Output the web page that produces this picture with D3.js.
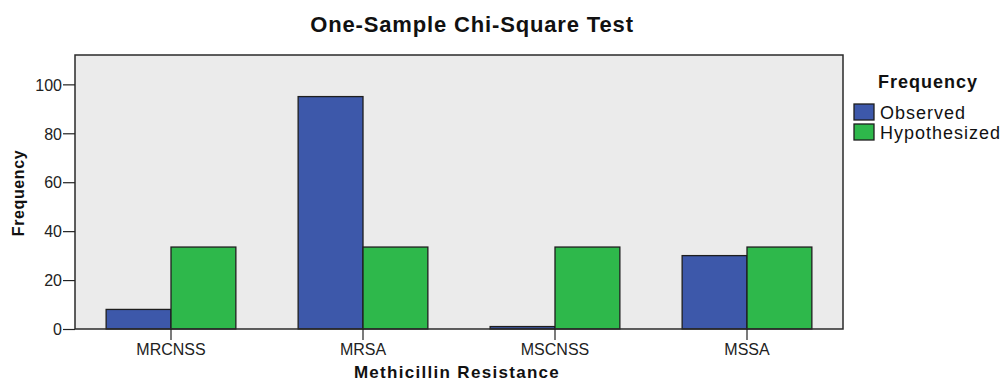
<!DOCTYPE html>
<html>
<head>
<meta charset="utf-8">
<script src="https://cdn.jsdelivr.net/npm/d3@7"></script>
<style>
  body { margin: 0; background: #fff; }
  svg text { font-family: "Liberation Sans", Arial, sans-serif; fill: #111; }
  .tick text { font-size: 16px; fill: #222; }
  .tick line { stroke: #222; stroke-width: 1.2; }
  .domain { display: none; }
</style>
</head>
<body>
<div id="chart"></div>
<script>
// data
var categories = ["MRCNSS", "MRSA", "MSCNSS", "MSSA"];
var seriesNames = ["Observed", "Hypothesized"];
var observed = [8, 95, 1, 30];
var hypothesized = [33.5, 33.5, 33.5, 33.5];
var yTicks = [0, 20, 40, 60, 80, 100];

var colors = { Observed: "#3d58aa", Hypothesized: "#2eb84b" };

var width = 1007, height = 381;
var plot = { left: 75, right: 843, top: 55, bottom: 329 };

var svg = d3.select("#chart").append("svg")
  .attr("width", width).attr("height", height);

// scales
var x = d3.scaleBand()
  .domain(categories)
  .range([plot.left, plot.right])
  .paddingInner(0).paddingOuter(0);

var xInner = d3.scaleBand()
  .domain(seriesNames)
  .range([0, x.bandwidth()])
  .paddingInner(0).paddingOuter(0.48);

var y = d3.scaleLinear()
  .domain([0, 112])
  .range([plot.bottom, plot.top]);

// plot background
svg.append("rect")
  .attr("x", plot.left).attr("y", plot.top)
  .attr("width", plot.right - plot.left)
  .attr("height", plot.bottom - plot.top)
  .attr("fill", "#ebebeb");

// bars
var rows = categories.map(function(c, i) {
  return { cat: c, values: [
    { key: "Observed", value: observed[i] },
    { key: "Hypothesized", value: hypothesized[i] }
  ]};
});

var groups = svg.append("g").attr("class", "bars")
  .selectAll("g")
  .data(rows)
  .enter()
  .append("g")
  .attr("transform", function(d) { return "translate(" + x(d.cat) + ",0)"; });

groups.selectAll("rect")
  .data(function(d) { return d.values; })
  .enter()
  .append("rect")
  .attr("x", function(d) { return xInner(d.key); })
  .attr("width", xInner.bandwidth())
  .attr("y", function(d) { return y(d.value); })
  .attr("height", function(d) { return y(0) - y(d.value); })
  .attr("fill", function(d) { return colors[d.key]; })
  .attr("stroke", "#1e1e1e")
  .attr("stroke-width", 1.3);

// plot border
svg.append("rect")
  .attr("x", plot.left).attr("y", plot.top)
  .attr("width", plot.right - plot.left)
  .attr("height", plot.bottom - plot.top)
  .attr("fill", "none")
  .attr("stroke", "#2a2a2a")
  .attr("stroke-width", 1.5);

// axes
svg.append("g")
  .attr("class", "y_axis")
  .attr("transform", "translate(" + plot.left + ",0)")
  .call(d3.axisLeft(y).tickValues(yTicks).tickSize(12).tickPadding(1));

svg.append("g")
  .attr("class", "x_axis")
  .attr("transform", "translate(0," + plot.bottom + ")")
  .call(d3.axisBottom(x).tickSize(11).tickPadding(4));

svg.selectAll(".y_axis .tick text").attr("dy", "0.36em");

// titles
svg.append("text")
  .attr("x", 472).attr("y", 32)
  .attr("text-anchor", "middle")
  .style("font-size", "22px").style("font-weight", "bold")
  .style("letter-spacing", "0.85px")
  .text("One-Sample Chi-Square Test");

svg.append("text")
  .attr("x", 457).attr("y", 378)
  .attr("text-anchor", "middle")
  .style("font-size", "17px").style("font-weight", "bold")
  .style("letter-spacing", "1.3px")
  .text("Methicillin Resistance");

svg.append("text")
  .attr("transform", "translate(24,193) rotate(-90)")
  .attr("text-anchor", "middle")
  .style("font-size", "16px").style("font-weight", "bold")
  .style("letter-spacing", "0.6px")
  .text("Frequency");

// legend
var legend = svg.append("g").attr("class", "legend");

legend.append("text")
  .attr("x", 928).attr("y", 88)
  .attr("text-anchor", "middle")
  .style("font-size", "18px").style("font-weight", "bold")
  .style("letter-spacing", "1px")
  .text("Frequency");

var items = legend.selectAll("g.item")
  .data(seriesNames)
  .enter()
  .append("g")
  .attr("class", "item")
  .attr("transform", function(d, i) { return "translate(854," + (104 + i * 20) + ")"; });

items.append("rect")
  .attr("width", 20).attr("height", 16)
  .attr("fill", function(d) { return colors[d]; })
  .attr("stroke", "#1e1e1e")
  .attr("stroke-width", 1.3);

items.append("text")
  .attr("x", 26).attr("y", 15)
  .style("font-size", "18px")
  .style("letter-spacing", "1px")
  .text(function(d) { return d; });
</script>
</body>
</html>
